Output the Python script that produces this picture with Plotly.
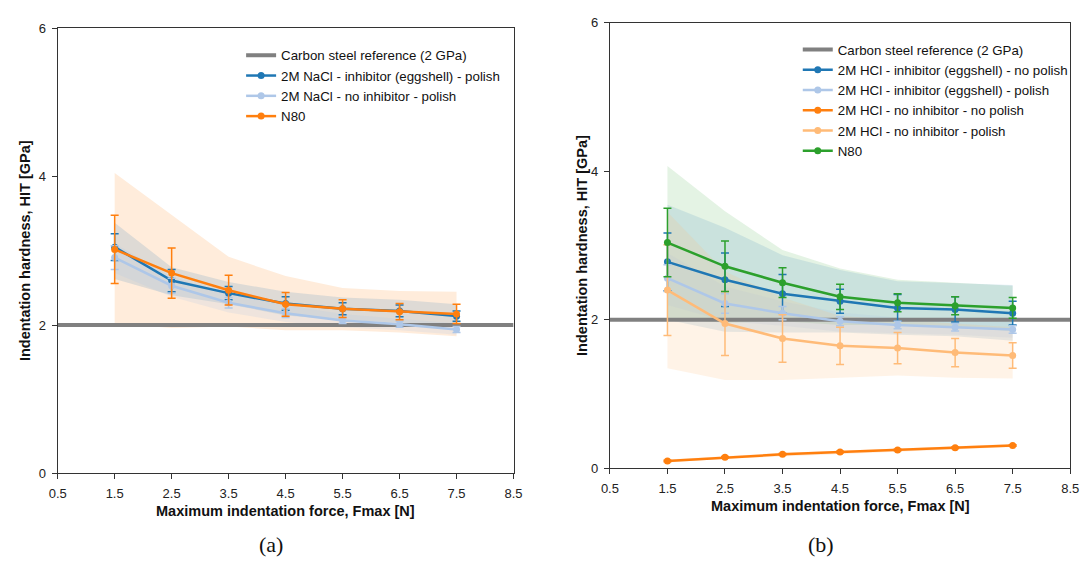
import plotly.graph_objects as go

# Indentation hardness vs. maximum indentation force
force = [1.5, 2.5, 3.5, 4.5, 5.5, 6.5, 7.5]
ref_x = [0.5, 8.5]
ref_y = [2.0, 2.0]

# (a) NaCl series
nacl_inh_mean = [3.05, 2.60, 2.43, 2.29, 2.22, 2.19, 2.12]
nacl_inh_err = [0.18, 0.15, 0.09, 0.09, 0.08, 0.08, 0.07]
nacl_inh_hi = [3.38, 2.78, 2.58, 2.45, 2.37, 2.34, 2.28]
nacl_inh_lo = [2.62, 2.40, 2.28, 2.13, 2.07, 2.03, 1.97]

nacl_noinh_mean = [2.91, 2.53, 2.30, 2.16, 2.06, 2.01, 1.94]
nacl_noinh_err = [0.16, 0.10, 0.07, 0.06, 0.04, 0.04, 0.04]
nacl_noinh_hi = [3.10, 2.65, 2.42, 2.27, 2.15, 2.09, 2.02]
nacl_noinh_lo = [2.70, 2.38, 2.17, 2.04, 1.97, 1.93, 1.87]

n80_mean = [3.02, 2.70, 2.47, 2.28, 2.22, 2.18, 2.15]
n80_err = [0.46, 0.34, 0.20, 0.16, 0.12, 0.11, 0.13]
n80_hi = [4.05, 3.48, 2.92, 2.66, 2.50, 2.46, 2.45]
n80_lo = [2.02, 1.96, 1.98, 1.93, 1.93, 1.90, 1.85]

# (b) HCl series
hcl_inh_np_mean = [2.78, 2.54, 2.35, 2.25, 2.16, 2.14, 2.09]
hcl_inh_np_err = [0.39, 0.36, 0.26, 0.16, 0.18, 0.17, 0.16]
hcl_inh_np_hi = [3.55, 3.24, 2.87, 2.67, 2.52, 2.50, 2.47]
hcl_inh_np_lo = [2.00, 1.84, 1.83, 1.83, 1.80, 1.78, 1.72]

hcl_inh_p_mean = [2.56, 2.22, 2.09, 1.98, 1.93, 1.90, 1.87]
hcl_inh_p_err = [0.18, 0.13, 0.09, 0.06, 0.05, 0.05, 0.05]
hcl_inh_p_hi = [2.90, 2.45, 2.25, 2.10, 2.03, 2.00, 1.97]
hcl_inh_p_lo = [2.20, 1.98, 1.92, 1.84, 1.82, 1.80, 1.76]

hcl_noinh_np_mean = [0.10, 0.15, 0.19, 0.22, 0.25, 0.28, 0.31]
hcl_noinh_np_err = [0.01, 0.01, 0.01, 0.01, 0.01, 0.01, 0.01]
hcl_noinh_np_hi = [0.12, 0.17, 0.21, 0.24, 0.27, 0.30, 0.33]
hcl_noinh_np_lo = [0.08, 0.13, 0.17, 0.20, 0.23, 0.26, 0.29]

hcl_noinh_p_mean = [2.40, 1.95, 1.75, 1.65, 1.62, 1.56, 1.52]
hcl_noinh_p_err = [0.61, 0.43, 0.32, 0.25, 0.21, 0.19, 0.17]
hcl_noinh_p_hi = [3.45, 2.65, 2.30, 2.05, 2.00, 1.95, 1.90]
hcl_noinh_p_lo = [1.35, 1.19, 1.19, 1.22, 1.25, 1.22, 1.21]

hcl_n80_mean = [3.04, 2.72, 2.50, 2.31, 2.23, 2.19, 2.16]
hcl_n80_err = [0.46, 0.34, 0.20, 0.17, 0.12, 0.12, 0.14]
hcl_n80_hi = [4.07, 3.46, 2.94, 2.69, 2.54, 2.50, 2.46]
hcl_n80_lo = [2.02, 1.96, 1.98, 1.93, 1.93, 1.90, 1.85]

x_ticks = [0.5, 1.5, 2.5, 3.5, 4.5, 5.5, 6.5, 7.5, 8.5]
y_ticks = [0, 2, 4, 6]

BLUE = "#1f77b4"
LBLUE = "#aec7e8"
ORANGE = "#ff7f0e"
LORANGE = "#ffbb78"
GREEN = "#2ca02c"
GREY = "#808080"
FONT = "Liberation Sans, Arial, sans-serif"

fig = go.Figure()


def band(lo, hi, fill, xa, ya):
    fig.add_trace(go.Scatter(
        x=force + force[::-1], y=hi + lo[::-1], fill="toself",
        fillcolor=fill, line=dict(width=0), mode="lines",
        hoverinfo="skip", showlegend=False, xaxis=xa, yaxis=ya))


def series(mean, err, color, name, xa, ya, leg):
    fig.add_trace(go.Scatter(
        x=force, y=mean, name=name, mode="lines+markers",
        line=dict(color=color, width=2.5),
        marker=dict(color=color, size=7),
        error_y=dict(type="data", array=err, color=color, thickness=1.5, width=4),
        xaxis=xa, yaxis=ya, legend=leg))


def reference(xa, ya, leg):
    fig.add_trace(go.Scatter(
        x=ref_x, y=ref_y, mode="lines", name="Carbon steel reference (2 GPa)",
        line=dict(color=GREY, width=4), xaxis=xa, yaxis=ya, legend=leg))


# panel (a)
band(n80_lo, n80_hi, "rgba(255,127,14,0.15)", "x", "y")
band(nacl_inh_lo, nacl_inh_hi, "rgba(31,119,180,0.15)", "x", "y")
band(nacl_noinh_lo, nacl_noinh_hi, "rgba(174,199,232,0.20)", "x", "y")
reference("x", "y", "legend")
series(nacl_inh_mean, nacl_inh_err, BLUE, "2M NaCl - inhibitor (eggshell) - polish", "x", "y", "legend")
series(nacl_noinh_mean, nacl_noinh_err, LBLUE, "2M NaCl - no inhibitor - polish", "x", "y", "legend")
series(n80_mean, n80_err, ORANGE, "N80", "x", "y", "legend")

# panel (b)
band(hcl_n80_lo, hcl_n80_hi, "rgba(44,160,44,0.13)", "x2", "y2")
band(hcl_inh_np_lo, hcl_inh_np_hi, "rgba(31,119,180,0.13)", "x2", "y2")
band(hcl_inh_p_lo, hcl_inh_p_hi, "rgba(174,199,232,0.20)", "x2", "y2")
band(hcl_noinh_np_lo, hcl_noinh_np_hi, "rgba(255,127,14,0.15)", "x2", "y2")
band(hcl_noinh_p_lo, hcl_noinh_p_hi, "rgba(255,187,120,0.18)", "x2", "y2")
reference("x2", "y2", "legend2")
series(hcl_inh_np_mean, hcl_inh_np_err, BLUE, "2M HCl - inhibitor (eggshell) - no polish", "x2", "y2", "legend2")
series(hcl_inh_p_mean, hcl_inh_p_err, LBLUE, "2M HCl - inhibitor (eggshell) - polish", "x2", "y2", "legend2")
series(hcl_noinh_np_mean, hcl_noinh_np_err, ORANGE, "2M HCl - no inhibitor - no polish", "x2", "y2", "legend2")
series(hcl_noinh_p_mean, hcl_noinh_p_err, LORANGE, "2M HCl - no inhibitor - polish", "x2", "y2", "legend2")
series(hcl_n80_mean, hcl_n80_err, GREEN, "N80", "x2", "y2", "legend2")

W, H = 1091, 567

axis_common = dict(
    showline=True, linecolor="#333333", linewidth=1, mirror=True,
    ticks="outside", ticklen=5, tickcolor="#333333", showgrid=False,
    zeroline=False, tickfont=dict(family=FONT, size=13, color="#222222"),
    ticklabelstandoff=3,
)

legend_font = dict(family=FONT, size=13.3, color="#111111")

fig.update_layout(
    width=W, height=H, autosize=False,
    margin=dict(l=0, r=0, t=0, b=0),
    paper_bgcolor="white", plot_bgcolor="white",
    font=dict(family=FONT),
    xaxis=dict(domain=[49.5 / W, 513 / W], range=[0.5, 8.5], tickvals=x_ticks,
               ticktext=[f"{v:.1f}" for v in x_ticks], anchor="y", **axis_common),
    yaxis=dict(domain=[1 - 479 / H, 1 - 22 / H], range=[0, 6], tickvals=y_ticks,
               anchor="x", **axis_common),
    xaxis2=dict(domain=[611 / W, 1079 / W], range=[0.5, 8.5], tickvals=x_ticks,
                ticktext=[f"{v:.1f}" for v in x_ticks], anchor="y2", **axis_common),
    yaxis2=dict(domain=[1 - 474 / H, 1 - 16 / H], range=[0, 6], tickvals=y_ticks,
                anchor="x2", **axis_common),
    legend=dict(x=236 / W, y=1 - 34 / H, xanchor="left", yanchor="top",
                bgcolor="rgba(0,0,0,0)", font=legend_font,
                tracegroupgap=0, itemwidth=30),
    legend2=dict(x=802 / W, y=1 - 28 / H, xanchor="left", yanchor="top",
                 bgcolor="rgba(0,0,0,0)", font=legend_font,
                 tracegroupgap=0, itemwidth=30),
)

title_font = dict(family=FONT, size=14.5, color="#111111")
annotations = [
    dict(text="<b>Maximum indentation force, Fmax [N]</b>", x=281 / W, y=1 - 518 / H,
         font=title_font),
    dict(text="<b>Maximum indentation force, Fmax [N]</b>", x=845 / W, y=1 - 513 / H,
         font=title_font),
    dict(text="<b>Indentation hardness, HIT [GPa]</b>", x=17 / W, y=1 - 250 / H,
         textangle=-90, font=title_font),
    dict(text="<b>Indentation hardness, HIT [GPa]</b>", x=582 / W, y=1 - 245 / H,
         textangle=-90, font=title_font),
    dict(text="(a)", x=266 / W, y=1 - 552 / H,
         font=dict(family="Liberation Serif, serif", size=22, color="#111111")),
    dict(text="(b)", x=826 / W, y=1 - 552 / H,
         font=dict(family="Liberation Serif, serif", size=22, color="#111111")),
]
for a in annotations:
    fig.add_annotation(xref="paper", yref="paper", showarrow=False,
                       xanchor="center", yanchor="middle", **a)

fig.write_html("out.html")
